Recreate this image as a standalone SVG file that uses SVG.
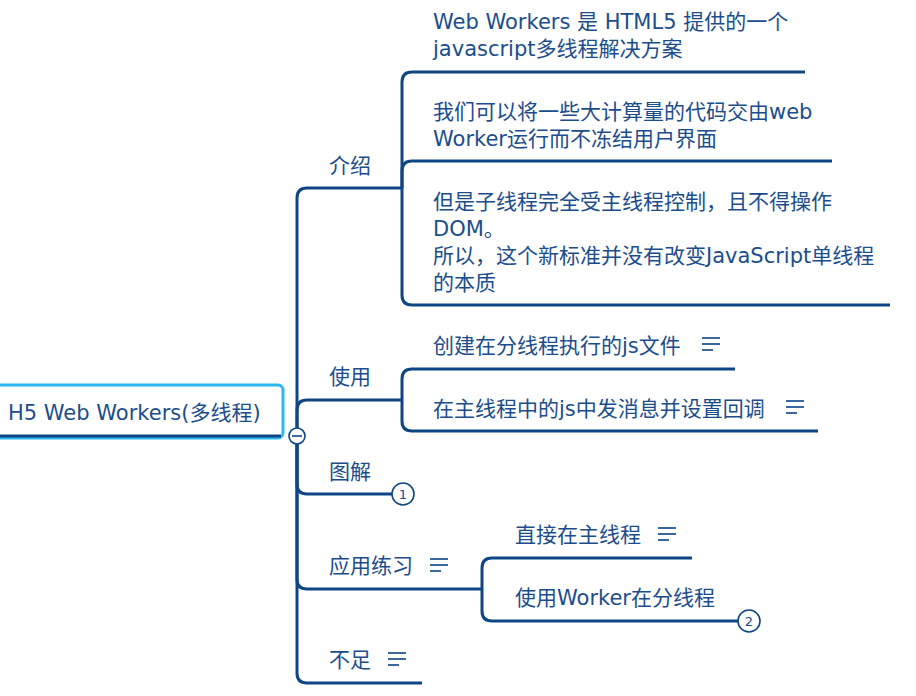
<svg xmlns="http://www.w3.org/2000/svg" width="916" height="696" viewBox="0 0 916 696">
<style>
.t{font-family:"DejaVu Sans","Noto Sans CJK SC",sans-serif;font-size:21px;fill:#1b4d8c}
.ln{fill:none;stroke:#0e4585;stroke-width:3;stroke-linecap:butt}
.note{fill:none;stroke:#3a679e;stroke-width:2.2}
.num{fill:#fff;stroke:#0e4585;stroke-width:1.6}
.nt{font-family:"DejaVu Sans",sans-serif;font-size:13px;fill:#1b4d8c;text-anchor:middle}
</style>
<defs>
<g id="notes"><path class="note" d="M0 0H18M0 6H18M0 12H11"/></g>
</defs>
<g id="connectors">
<path class="ln" d="M297 436V198Q297 188 307 188H402"/>
<path class="ln" d="M297 436V410Q297 400 307 400H402"/>
<path class="ln" d="M297 436V484Q297 494 307 494H392"/>
<path class="ln" d="M297 436V579Q297 589 307 589H482"/>
<path class="ln" d="M297 436V673Q297 683 307 683H422"/>
<path class="ln" d="M402 188V82Q402 72 412 72H805"/>
<path class="ln" d="M402 188V171Q402 161 412 161H832"/>
<path class="ln" d="M402 188V295Q402 305 412 305H890"/>
<path class="ln" d="M402 400V379Q402 369 412 369H735"/>
<path class="ln" d="M402 400V421Q402 431 412 431H818"/>
<path class="ln" d="M482 589V568Q482 558 492 558H692"/>
<path class="ln" d="M482 589V611Q482 621 492 621H738"/>
</g>
<g id="root">
<rect x="-10" y="385" width="293" height="53" rx="5" fill="#fff" stroke="#2bb7f2" stroke-width="3"/>
<line x1="0" y1="436" x2="281" y2="436" stroke="#0e4585" stroke-width="3"/>
<text class="t" x="8" y="420">H5 Web Workers(多线程)</text>
<circle cx="297" cy="436" r="8" fill="#fff" stroke="#0e4585" stroke-width="1.6"/>
<line x1="292" y1="436" x2="302" y2="436" stroke="#0e4585" stroke-width="1.6"/>
</g>
<g id="intro"><text class="t" x="329" y="173">介绍</text></g>
<g id="intro1"><text class="t" x="433" y="29">Web Workers 是 HTML5 提供的一个</text><text class="t" x="433" y="56">javascript多线程解决方案</text></g>
<g id="intro2"><text class="t" x="433" y="119">我们可以将一些大计算量的代码交由web</text><text class="t" x="433" y="146">Worker运行而不冻结用户界面</text></g>
<g id="intro3"><text class="t" x="433" y="209">但是子线程完全受主线程控制，且不得操作</text><text class="t" x="433" y="236">DOM。</text><text class="t" x="433" y="263">所以，这个新标准并没有改变JavaScript单线程</text><text class="t" x="433" y="290">的本质</text></g>
<g id="use"><text class="t" x="329" y="384">使用</text></g>
<g id="use1"><text class="t" x="433" y="353">创建在分线程执行的js文件</text><use href="#notes" x="702" y="338"/></g>
<g id="use2"><text class="t" x="433" y="416">在主线程中的js中发消息并设置回调</text><use href="#notes" x="786" y="401"/></g>
<g id="diagram"><text class="t" x="329" y="479">图解</text><circle class="num" cx="403" cy="494" r="11"/><text class="nt" x="403" y="499">1</text></g>
<g id="practice"><text class="t" x="329" y="573">应用练习</text><use href="#notes" x="430" y="559"/></g>
<g id="practice1"><text class="t" x="515" y="542">直接在主线程</text><use href="#notes" x="658" y="528"/></g>
<g id="practice2"><text class="t" x="515" y="605">使用Worker在分线程</text><circle class="num" cx="749" cy="621" r="11"/><text class="nt" x="749" y="626">2</text></g>
<g id="lack"><text class="t" x="329" y="667">不足</text><use href="#notes" x="388" y="653"/></g>
</svg>
